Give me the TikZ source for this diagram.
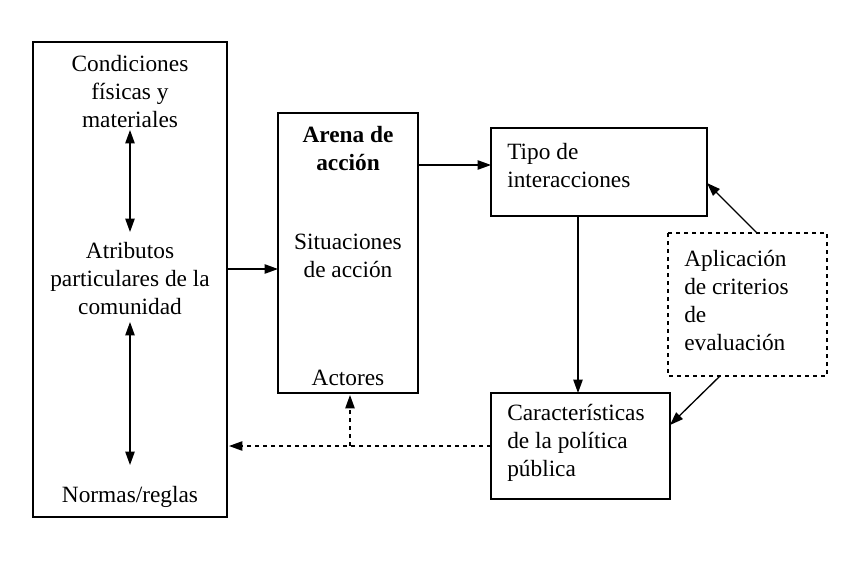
\documentclass[tikz,border=0pt]{standalone}
\usepackage{fontspec}
\setmainfont{Liberation Serif}
\usetikzlibrary{arrows.meta}
\begin{document}
\begin{tikzpicture}[x=0.75pt,y=-0.75pt,
  box/.style={draw,line width=1pt},
  txt/.style={align=center,font=\fontsize{17.5}{21}\selectfont,inner sep=0pt},
  arr/.style={-{Triangle[length=10pt,width=7pt]},line width=1pt},
  darr/.style={{Triangle[length=10pt,width=7pt]}-{Triangle[length=10pt,width=7pt]},line width=1pt}]
\fill[white] (0,0) rectangle (860,586);
\useasboundingbox (0,0) rectangle (860,586);
\draw[box] (33,42) rectangle (227,517);
\draw[box] (278,113) rectangle (418,393);
\draw[box] (491,128) rectangle (707,216);
\draw[box] (491,393) rectangle (670,499);
\draw[box,dashed] (668,233) rectangle (827,376);
\node[txt] (cond) at (130,92) {Condiciones\\físicas y\\materiales};
\node[txt] (atr) at (130,279) {Atributos\\particulares de la\\comunidad};
\node[txt] (norm) at (130,497) {Normas/reglas};
\node[txt] (arena) at (348,149) {\bfseries Arena de\\\bfseries acción};
\node[txt] (sit) at (348,256) {Situaciones\\de acción};
\node[txt] (act) at (348,378) {Actores};
\node[txt,align=left,anchor=west] (tipo) at (507,166) {Tipo de\\interacciones};
\node[txt,align=left,anchor=west] (car) at (507,443) {Características\\de la política\\pública};
\node[txt,align=left,anchor=west] (apl) at (684,300) {Aplicación\\de criterios\\de\\evaluación};
\coordinate (a1) at (130,130); \coordinate (a2) at (130,232);
\coordinate (b1) at (130,322); \coordinate (b2) at (130,465);
\draw[darr] (a1) -- (a2);
\draw[darr] (b1) -- (b2);
\draw[arr] (227,269) -- (278,269);
\draw[arr] (418,165) -- (491,165);
\draw[arr] (578,216) -- (578,393);
\draw[arr] (757,233) -- (707,183);
\draw[arr] (720,376) -- (670,425);
\draw[arr,dashed] (491,446) -- (229,446);
\draw[arr,dashed] (350,446) -- (350,395);
\end{tikzpicture}
\end{document}
